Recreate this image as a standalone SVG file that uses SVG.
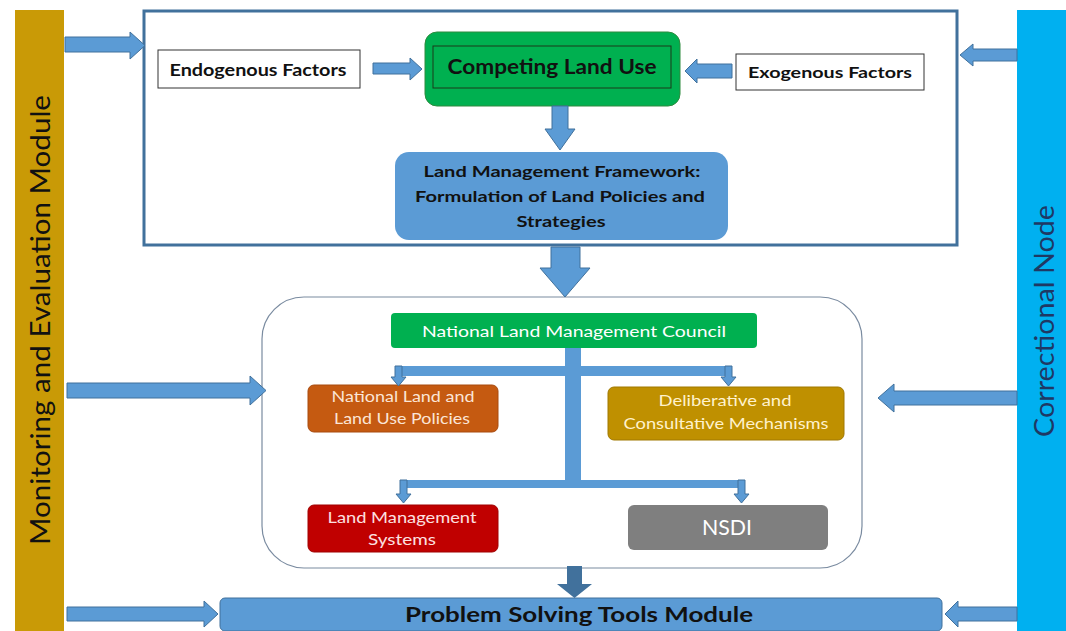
<svg xmlns="http://www.w3.org/2000/svg" width="1066" height="631" viewBox="0 0 1066 631">
<style>
.arr{fill:#5B9BD5;stroke:#41719C;stroke-width:1}
.t{font-family:Lato,"Open Sans","Liberation Sans",sans-serif}
.b{font-weight:bold;fill:#111}
.w{fill:#fff}
</style>
<rect width="1066" height="631" fill="#fff"/>
<g id="monitoring">
<rect x="15" y="10" width="49" height="621" fill="#C99A06"/>
<text class="t" x="0" y="0" transform="translate(50,320) rotate(-90)" text-anchor="middle" font-size="26" fill="#111" textLength="450" lengthAdjust="spacingAndGlyphs">Monitoring and Evaluation Module</text>
</g>
<g id="correctional">
<rect x="1017" y="10" width="49" height="621" fill="#00B0F0"/>
<text class="t" x="0" y="0" transform="translate(1054,321) rotate(-90)" text-anchor="middle" font-size="26" fill="#1F3864" textLength="232" lengthAdjust="spacingAndGlyphs">Correctional Node</text>
</g>
<g id="topframe">
<rect x="144" y="11" width="813" height="234" fill="none" stroke="#41719C" stroke-width="3"/>
</g>
<g id="endogenous">
<rect x="158" y="50" width="202" height="38" fill="#fff" stroke="#333" stroke-width="1"/>
<text class="t b" x="258" y="76" text-anchor="middle" font-size="17" textLength="177" lengthAdjust="spacingAndGlyphs">Endogenous Factors</text>
</g>
<g id="competing">
<rect x="425" y="32" width="255" height="74" rx="12" fill="#00B050" stroke="#2E8B3E" stroke-width="1"/>
<rect x="433" y="46" width="238" height="42" fill="none" stroke="#1a3a1a" stroke-width="1"/>
<text class="t b" x="552" y="74" text-anchor="middle" font-size="20" fill="#0d2a10" textLength="209" lengthAdjust="spacingAndGlyphs">Competing Land Use</text>
</g>
<g id="exogenous">
<rect x="736" y="54" width="188" height="36" fill="#fff" stroke="#333" stroke-width="1"/>
<text class="t b" x="830" y="78" text-anchor="middle" font-size="16" textLength="164" lengthAdjust="spacingAndGlyphs">Exogenous Factors</text>
</g>
<g id="lmf">
<rect x="395" y="152" width="333" height="88" rx="14" fill="#5B9BD5"/>
<text class="t b" x="562" y="177" text-anchor="middle" font-size="16" textLength="277" lengthAdjust="spacingAndGlyphs">Land Management Framework:</text>
<text class="t b" x="560" y="202" text-anchor="middle" font-size="16" textLength="290" lengthAdjust="spacingAndGlyphs">Formulation of Land Policies and</text>
<text class="t b" x="561" y="227" text-anchor="middle" font-size="16" textLength="89" lengthAdjust="spacingAndGlyphs">Strategies</text>
</g>
<g id="middleframe">
<rect x="262" y="297" width="600" height="271" rx="42" fill="none" stroke="#7A8BA0" stroke-width="1.2"/>
</g>
<g id="council">
<rect x="391" y="313" width="366" height="35" rx="4" fill="#00B050"/>
<text class="t w" x="574" y="337" text-anchor="middle" font-size="16" textLength="304" lengthAdjust="spacingAndGlyphs">National Land Management Council</text>
</g>
<g id="policies">
<rect x="308" y="385" width="190" height="47" rx="6" fill="#C55A11" stroke="#A84A0E" stroke-width="1"/>
<text class="t" x="403" y="402" text-anchor="middle" font-size="15" fill="#FBE5D6" textLength="143" lengthAdjust="spacingAndGlyphs">National Land and</text>
<text class="t" x="402" y="424" text-anchor="middle" font-size="15" fill="#FBE5D6" textLength="136" lengthAdjust="spacingAndGlyphs">Land Use Policies</text>
</g>
<g id="deliberative">
<rect x="608" y="387" width="236" height="53" rx="6" fill="#BF9000" stroke="#A07800" stroke-width="1"/>
<text class="t" x="725" y="406" text-anchor="middle" font-size="15" fill="#FFF2CC" textLength="133" lengthAdjust="spacingAndGlyphs">Deliberative and</text>
<text class="t" x="726" y="429" text-anchor="middle" font-size="15" fill="#FFF2CC" textLength="205" lengthAdjust="spacingAndGlyphs">Consultative Mechanisms</text>
</g>
<g id="lms">
<rect x="308" y="505" width="190" height="47" rx="6" fill="#C00000" stroke="#A00000" stroke-width="1"/>
<text class="t" x="402" y="523" text-anchor="middle" font-size="15" fill="#FDE0E0" textLength="149" lengthAdjust="spacingAndGlyphs">Land Management</text>
<text class="t" x="402" y="545" text-anchor="middle" font-size="15" fill="#FDE0E0" textLength="68" lengthAdjust="spacingAndGlyphs">Systems</text>
</g>
<g id="nsdi">
<rect x="628" y="505" width="200" height="45" rx="6" fill="#7F7F7F"/>
<text class="t w" x="727" y="535" text-anchor="middle" font-size="21" textLength="50" lengthAdjust="spacingAndGlyphs">NSDI</text>
</g>
<g id="problem">
<rect x="220" y="598" width="722" height="33" rx="5" fill="#5B9BD5" stroke="#41719C" stroke-width="1"/>
<text class="t b" x="579" y="622" text-anchor="middle" font-size="21" textLength="348" lengthAdjust="spacingAndGlyphs">Problem Solving Tools Module</text>
</g>
<g id="connectors">
<path class="arr" d="M65,37 H130 V32 L145,45.5 L130,59 V52 H65 Z"/>
<path class="arr" d="M373,63 H410 V58 L422,69 L410,80 V74 H373 Z"/>
<path class="arr" d="M732,64 H697 V59 L685,71 L697,83 V78 H732 Z"/>
<path class="arr" d="M552,106 H568 V129 H575 L560,150 L545,129 H552 Z"/>
<path class="arr" d="M1017,49 H973 V44 L960,55 L973,66 V61 H1017 Z"/>
<path class="arr" d="M551,247 H580 V268 H590 L565,297 L540,268 H551 Z"/>
<path class="arr" d="M67,383 H250 V376 L266,390.5 L250,405 V398 H67 Z"/>
<path class="arr" d="M1017,391 H894 V384 L878,398 L894,412 V405 H1017 Z"/>
<path d="M565,348 H581 V366 H731 V376 H581 V480 H745 V488 H581 L565,488 H407 V480 H565 V376 H402 V366 H565 Z" fill="#5B9BD5"/>
<path class="arr" d="M395,366 H402 V377 H406 L398.5,386 L391,377 H395 Z"/>
<path class="arr" d="M725,366 H732 V377 H736 L728.5,386 L721,377 H725 Z"/>
<path class="arr" d="M400,480 H407 V494 H411 L403.5,503 L396,494 H400 Z"/>
<path class="arr" d="M738,480 H745 V494 H749 L741.5,503 L734,494 H738 Z"/>
<path d="M567,566 H582 V584 H592 L574.5,598 L557,584 H567 Z" fill="#41719C"/>
<path class="arr" d="M67,607 H204 V601 L218,614 L204,627 V621 H67 Z"/>
<path class="arr" d="M1017,607 H958 V601 L945,614 L958,627 V621 H1017 Z"/>
</g>
</svg>
